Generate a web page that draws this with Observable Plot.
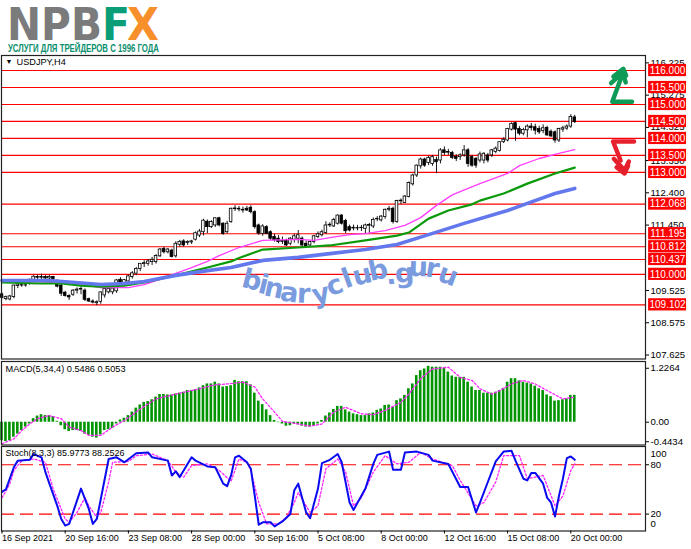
<!DOCTYPE html>
<html>
<head>
<meta charset="utf-8">
<script src="https://cdn.jsdelivr.net/npm/d3@7"></script>
<script src="https://cdn.jsdelivr.net/npm/@observablehq/plot@0.6"></script>
<style>
html,body{margin:0;padding:0;background:#fff;overflow:hidden}
#page{position:relative;width:691px;height:549px;background:#fff;overflow:hidden}
#page svg{position:absolute;left:0;font-family:"Liberation Sans",sans-serif}
#logo{top:0;width:691px;height:54px}
</style>
</head>
<body>
<div id="page">
<svg id="logo" viewBox="0 0 691 54">
<text x="7" y="39.5" font-family="DejaVu Sans" font-weight="bold" font-size="45" fill="#7b7b7c" textLength="95" lengthAdjust="spacingAndGlyphs">NPB</text>
<text x="102" y="39.5" font-family="DejaVu Sans" font-weight="bold" font-size="45" fill="#0a9e78" textLength="28" lengthAdjust="spacingAndGlyphs">F</text>
<text x="127" y="39.5" font-family="DejaVu Sans" font-weight="bold" font-size="45" fill="#f78f2a" textLength="32" lengthAdjust="spacingAndGlyphs">X</text>
<text x="8" y="52" font-family="Liberation Sans" font-weight="bold" font-size="10.5" fill="#0b8f6e" textLength="151" lengthAdjust="spacingAndGlyphs">УСЛУГИ ДЛЯ ТРЕЙДЕРОВ С 1996 ГОДА</text>
</svg>
</div>
<script>
const opens=[109.41,109.27,109.26,109.33,109.66,109.68,109.67,109.72,109.84,109.92,
109.90,109.92,109.88,109.92,109.79,109.67,109.46,109.36,109.40,109.52,
109.55,109.52,109.27,109.20,109.15,109.19,109.38,109.47,109.47,109.50,
109.84,109.74,109.79,109.92,110.02,110.16,110.30,110.31,110.36,110.36,
110.53,110.75,110.65,110.70,110.53,110.87,110.97,110.92,110.94,111.02,
111.14,111.24,111.55,111.39,111.44,111.65,111.49,111.24,111.54,111.92,
111.93,111.90,111.93,111.96,111.83,111.44,111.19,111.39,111.24,111.10,
111.05,110.98,110.99,110.90,111.02,111.05,111.05,110.90,110.85,110.95,
111.10,111.15,111.22,111.44,111.41,111.49,111.73,111.57,111.39,111.35,
111.36,111.36,111.34,111.43,111.41,111.62,111.59,111.69,111.90,111.93,
111.54,112.15,112.10,112.28,112.65,112.91,113.18,113.38,113.28,113.25,
113.37,113.35,113.65,113.58,113.57,113.46,113.45,113.50,113.65,113.45,
113.40,113.35,113.35,113.50,113.50,113.60,113.63,113.89,113.94,114.26,
114.45,114.28,114.14,114.24,114.35,114.33,114.28,114.22,114.31,114.20,
114.18,113.94,114.26,114.29,114.35,114.62];
const highs=[109.45,109.36,109.38,109.68,109.74,109.72,109.72,109.86,109.96,109.98,
110.00,109.96,109.97,109.94,109.84,109.70,109.50,109.40,109.55,109.60,
109.64,109.57,109.30,109.25,109.22,109.48,109.62,109.60,109.62,109.85,
109.90,109.85,109.98,110.08,110.20,110.32,110.40,110.44,110.50,110.58,
110.76,110.80,110.76,110.74,110.96,111.00,111.02,110.99,111.00,111.25,
111.32,111.62,111.60,111.58,111.66,111.68,111.52,111.56,111.95,112.02,
112.00,111.98,112.00,112.02,111.87,111.48,111.46,111.43,111.28,111.18,
111.14,111.10,111.04,111.08,111.18,111.29,111.10,110.98,110.98,111.15,
111.25,111.30,111.55,111.52,111.65,111.75,111.76,111.62,111.45,111.45,
111.44,111.44,111.48,111.50,111.66,111.70,111.73,111.92,112.00,111.98,
112.18,112.22,112.32,112.72,112.95,113.22,113.42,113.42,113.48,113.50,
113.45,113.70,113.75,113.68,113.62,113.52,113.55,113.79,113.70,113.50,
113.44,113.60,113.58,113.56,113.68,113.75,113.90,114.02,114.30,114.46,
114.48,114.35,114.30,114.40,114.44,114.42,114.36,114.40,114.36,114.25,
114.22,114.30,114.36,114.40,114.70,114.68];
const lows=[109.28,109.22,109.22,109.28,109.58,109.62,109.62,109.68,109.78,109.85,
109.84,109.84,109.84,109.82,109.60,109.35,109.33,109.23,109.35,109.42,
109.40,109.20,109.17,109.13,109.08,109.12,109.30,109.42,109.40,109.44,
109.70,109.70,109.72,109.86,109.96,110.08,110.20,110.24,110.26,110.30,
110.50,110.60,110.60,110.48,110.48,110.80,110.80,110.85,110.88,110.98,
111.08,111.13,111.20,111.35,111.38,111.40,111.15,111.19,111.50,111.85,
111.84,111.80,111.85,111.78,111.33,111.15,111.12,111.17,111.00,110.95,
110.90,110.88,110.82,110.84,110.92,110.90,110.80,110.77,110.80,110.90,
111.05,111.10,111.18,111.38,111.38,111.45,111.45,111.20,111.25,111.28,
111.28,111.26,111.20,111.20,111.35,111.55,111.54,111.62,111.84,111.48,
111.50,112.05,112.08,112.25,112.60,112.85,113.10,113.15,113.20,113.18,
112.96,113.25,113.50,113.50,113.38,113.32,113.35,113.45,113.15,113.15,
113.12,113.28,113.25,113.28,113.44,113.55,113.60,113.85,113.90,114.22,
113.92,114.08,114.08,114.02,114.22,114.10,114.12,114.14,114.06,114.03,
113.86,113.88,114.18,114.24,114.30,114.44];
const closes=[109.31,109.33,109.35,109.67,109.70,109.67,109.68,109.84,109.93,109.90,
109.92,109.88,109.92,109.86,109.64,109.43,109.36,109.32,109.52,109.55,
109.57,109.25,109.20,109.17,109.18,109.47,109.57,109.57,109.58,109.82,
109.74,109.83,109.94,110.03,110.16,110.31,110.33,110.38,110.43,110.54,
110.73,110.65,110.73,110.51,110.90,110.95,110.85,110.95,110.97,111.21,
111.26,111.58,111.39,111.54,111.65,111.44,111.19,111.49,111.93,111.94,
111.91,111.88,111.88,111.83,111.39,111.20,111.41,111.19,111.05,111.00,
110.95,110.96,110.85,111.05,111.12,111.15,110.85,110.82,110.95,111.12,
111.18,111.24,111.44,111.46,111.60,111.73,111.49,111.27,111.29,111.37,
111.35,111.37,111.44,111.45,111.60,111.63,111.70,111.90,111.93,111.54,
112.16,112.17,112.29,112.69,112.91,113.20,113.38,113.20,113.43,113.45,
113.30,113.65,113.57,113.60,113.43,113.40,113.50,113.65,113.25,113.20,
113.20,113.53,113.55,113.35,113.65,113.70,113.89,113.96,114.28,114.43,
114.26,114.14,114.25,114.35,114.31,114.23,114.18,114.30,114.09,114.06,
113.94,114.28,114.30,114.35,114.63,114.48];

const maPinkBars=[0,8,14,20,25,32,36,40,44,48,52,55,60,66,75,79,83,88,92,97,102,106,110,114,118,121,128,131,136,141,145];
const maPinkVals=[109.82,109.73,109.76,109.70,109.61,109.61,109.70,109.85,110.03,110.20,110.38,110.55,110.79,111.00,111.03,111.00,111.08,111.17,111.20,111.29,111.44,111.67,112.03,112.34,112.53,112.67,112.97,113.20,113.41,113.56,113.67];
const maGreenBars=[0,10,15,20,25,31,36,44,52,58,60,66,75,83,92,100,103,108,113,119,121,127,133,140,145];
const maGreenVals=[109.76,109.73,109.73,109.67,109.64,109.67,109.76,109.97,110.20,110.38,110.48,110.73,110.79,110.85,111.00,111.14,111.23,111.64,111.88,112.06,112.17,112.38,112.67,112.97,113.14];
const maBlueBars=[0,12,25,31,36,44,52,58,66,75,83,92,100,108,117,128,133,140,145];
const maBlueVals=[109.82,109.82,109.70,109.73,109.79,109.97,110.11,110.20,110.41,110.50,110.61,110.73,110.88,111.17,111.50,111.88,112.09,112.38,112.53];

const priceLevels=[116,115.5,115,114.5,114,113.5,113,112.068,111.195,110.812,110.437,110,109.102];
const priceTicks=[116.225,115.275,114.325,113.35,112.4,111.45,109.525,108.575,107.625];

const macdVals=[-.42,-.44,-.42,-.34,-.27,-.19,-.11,-.04,.08,.14,.17,.15,.15,.13,.02,-.08,-.17,-.21,-.19,-.19,-.21,-.27,-.30,-.34,-.36,-.29,-.19,-.17,-.14,-.04,.05,.09,.15,.23,.32,.39,.45,.47,.51,.57,.63,.63,.62,.62,.64,.66,.68,.72,.72,.74,.78,.83,.87,.87,.91,.87,.80,.81,.83,.95,.92,.92,.92,.85,.66,.48,.40,.28,.15,.04,-.01,-.04,-.09,-.08,-.04,-.06,-.09,-.11,-.11,-.08,-.04,.04,.14,.21,.29,.36,.36,.28,.23,.19,.17,.15,.15,.19,.21,.27,.30,.38,.39,.34,.49,.53,.61,.76,.87,1.06,1.17,1.21,1.27,1.25,1.25,1.25,1.23,1.14,1.05,1.02,1.02,1.02,.91,.80,.72,.72,.66,.66,.66,.68,.72,.77,.91,.99,.99,.94,.91,.89,.87,.82,.76,.72,.62,.58,.48,.49,.51,.53,.61,.61];
const macdSigBars=[0,3,5,7,9,12,15,17,20,22,25,28,31,35,39,44,49,54,57,61,64,66,69,71,75,78,81,84,87,91,94,97,101,103,106,109,113,116,119,121,124,126,129,132,135,138,142,145];
const macdSigVals=[-.49,-.38,-.19,-.04,.08,.15,.08,-.11,-.19,-.30,-.30,-.11,.04,.30,.53,.64,.74,.85,.87,.91,.80,.53,.23,.02,-.04,-.09,-.04,.23,.34,.19,.17,.27,.45,.64,.99,1.21,1.25,1.02,.95,.76,.64,.72,.87,.95,.87,.72,.53,.57];
const macdTicks=[1.2264,0,-0.4434];

const stochBars=[0,1,3,4,7,8,10,11,12,14,15,16,17,20,22,23,24,25,27,29,31,34,37,38,42,43,44,45,48,49,52,54,56,57,58,59,60,62,63,64,65,66,68,69,71,73,74,75,77,78,80,81,83,85,86,88,89,92,94,95,98,99,101,102,105,108,109,113,116,118,120,121,123,125,127,129,130,132,133,134,135,137,138,139,140,141,142,143,144,145];
const stochVals=[47,50,77,85,86,93,89,71,57,30,14,6,8,51,26,8,14,38,87,89,83,94,95,89,85,67,72,65,89,85,78,77,57,54,67,89,91,83,75,42,7,10,10,5,11,20,49,57,22,15,51,82,86,93,83,34,25,51,81,92,96,74,74,95,96,92,85,81,53,53,22,34,59,84,96,97,85,63,61,70,70,57,40,34,17,42,63,88,90,86];
const stochSigBars=[0,1,2,3,5,8,11,13,16,17,19,21,22,24,25,27,28,32,34,38,42,44,46,48,52,55,58,60,62,63,65,67,70,72,74,75,78,80,82,85,87,89,91,94,97,100,103,106,109,114,116,120,122,125,127,131,133,137,140,142,144,145];
const stochSigVals=[40,48,57,73,85,87,83,50,14,10,22,40,30,16,22,59,83,84,91,93,85,71,65,79,81,73,60,87,83,73,34,8,8,16,34,46,22,30,75,87,71,30,40,71,91,81,83,95,87,79,61,30,34,59,91,91,63,67,30,42,73,81];
const stochLevels=[80,20];

const tickBars=[0,16,32,48,64,80,96,112,128,144];
const tickLabels=["16 Sep 2021","20 Sep 16:00","23 Sep 08:00","28 Sep 00:00","30 Sep 16:00","5 Oct 08:00","8 Oct 00:00","12 Oct 16:00","15 Oct 08:00","20 Oct 00:00"];

const wmLetters=["b","i","n","a","r","y","c","l","u","b",".","g","u","r","u"];
const wmBars=[63.3,66.2,68.9,72.8,76.4,80.7,84.2,87.4,91.2,95.2,98.4,101.9,105.4,109,113];
const wmPrices=[109.82,109.69,109.58,109.45,109.42,109.42,109.67,109.87,109.97,110.11,109.97,110.02,110.20,110.17,109.97];
const wmAngles=[14,14,12,8,2,-12,-20,-20,-14,-12,-8,-4,2,10,20];

const greenStrokes=[[[159.5,115.08],[154.5,115.08],[156.8,115.80]],[[154.2,115.63],[157.1,115.94],[157.9,115.65]],[[154.8,115.82],[157.3,116.05],[158,115.85]]];
const redStrokes=[[[160,113.91],[154.7,113.91],[156.6,113.35]],[[154.9,113.40],[157.6,113.06],[158.7,113.32]],[[155.6,113.15],[157.6,112.97],[158.5,113.2]]];

const barIdx=d3.range(opens.length);
const xDomain=[-0.127,162.911];
const boxBars=[163.7,173.3];
const FS=9.2;
const common={width:691,marginLeft:1,marginRight:46,style:{fontSize:FS+"px",fontFamily:"Liberation Sans",background:"transparent"}};
const zip=(a,b)=>a.map((v,k)=>[v,b[k]]);
const strokeData=s=>s.flatMap((seg,g)=>seg.map(p=>({x:p[0],y:p[1],g})));

const main=Plot.plot({...common,height:306,marginTop:1,marginBottom:1.5,
  x:{domain:xDomain,axis:null},
  y:{domain:[107.508,116.442]},
  marks:[
    Plot.ruleY(priceLevels,{stroke:"#f00",strokeWidth:1.2}),
    Plot.ruleX(barIdx,{x:i=>i,y1:i=>lows[i],y2:i=>highs[i],stroke:"#000",strokeWidth:.9}),
    Plot.rect(barIdx,{x1:i=>i-.33,x2:i=>i+.33,y1:i=>opens[i],y2:i=>closes[i],fill:i=>closes[i]>=opens[i]?"#fff":"#000",stroke:"#000",strokeWidth:.8}),
    Plot.line(zip(maPinkBars,maPinkVals),{stroke:"#ff3dff",strokeWidth:1.3}),
    Plot.line(zip(maGreenBars,maGreenVals),{stroke:"#0a9a0a",strokeWidth:2.2}),
    Plot.line(zip(maBlueBars,maBlueVals),{stroke:"#6478ee",strokeWidth:3.6}),
    Plot.text(wmLetters,{x:(d,k)=>wmBars[k],y:(d,k)=>wmPrices[k],text:d=>d,rotate:(d,k)=>wmAngles[k],fontSize:27,fontWeight:"bold",fontFamily:"DejaVu Sans",fill:"#7a9bdd"}),
    Plot.line(strokeData(greenStrokes),{x:"x",y:"y",z:"g",stroke:"#0f9b55",strokeWidth:4.5,curve:"linear"}),
    Plot.line(strokeData(redStrokes),{x:"x",y:"y",z:"g",stroke:"#e6202c",strokeWidth:4.5,curve:"linear"}),
    Plot.frame({stroke:"#222",strokeWidth:1.2}),
    Plot.axisY({anchor:"right",ticks:priceTicks,tickFormat:d3.format(".3f"),tickSize:3,tickPadding:2,label:null,fill:"#000",fontSize:9.6}),
    Plot.rect(priceLevels,{x1:boxBars[0],x2:boxBars[1],y1:d=>d-.18,y2:d=>d+.18,fill:"#f00"}),
    Plot.text(priceLevels,{x:(boxBars[0]+boxBars[1])/2,y:d=>d,text:d=>d3.format(".3f")(d),fill:"#fff",fontSize:10}),
    Plot.text(["▼"],{frameAnchor:"top-left",dx:4,dy:4,fontSize:7,fill:"#000",textAnchor:"start",lineAnchor:"top"}),
    Plot.text(["USDJPY,H4"],{frameAnchor:"top-left",dx:15,dy:3,fontSize:9.2,fill:"#000",textAnchor:"start",lineAnchor:"top"})
  ]});
main.style.top="54px";

const macd=Plot.plot({...common,height:86,marginTop:1,marginBottom:1.5,
  x:{domain:xDomain,axis:null},
  y:{domain:[-0.518,1.38]},
  marks:[
    Plot.rect(barIdx,{x1:i=>i-.33,x2:i=>i+.33,y1:0,y2:i=>macdVals[i],fill:"#009400"}),
    Plot.line(zip(macdSigBars,macdSigVals),{stroke:"#ff22ff",strokeWidth:1.3,strokeDasharray:"2 2"}),
    Plot.frame({stroke:"#222",strokeWidth:1.2}),
    Plot.axisY({anchor:"right",ticks:macdTicks,tickFormat:d=>d===0?"0.00":d3.format(".4f")(d).replace("−","-"),tickSize:3,tickPadding:2,label:null,fill:"#000",fontSize:9.6}),
    Plot.text(["MACD(5,34,4) 0.5486 0.5053"],{frameAnchor:"top-left",dx:4,dy:4,fontSize:9.2,fill:"#000",textAnchor:"start",lineAnchor:"top"})
  ]});
macd.style.top="360px";

const stoch=Plot.plot({...common,height:104,marginTop:1,marginBottom:18.5,
  x:{domain:xDomain},
  y:{domain:[-0.6,102.2]},
  marks:[
    Plot.ruleY(stochLevels,{stroke:"#f00",strokeWidth:1.2,strokeDasharray:"13 6"}),
    Plot.line(zip(stochSigBars,stochSigVals),{stroke:"#ff22ff",strokeWidth:1.3,strokeDasharray:"2 2"}),
    Plot.line(zip(stochBars,stochVals),{stroke:"#0a0af0",strokeWidth:2}),
    Plot.frame({stroke:"#222",strokeWidth:1.2}),
    Plot.axisY({anchor:"right",ticks:stochLevels,tickFormat:d=>String(d),tickSize:3,tickPadding:2,label:null,fill:"#000",fontSize:9.6}),
    Plot.text([100],{y:d=>d,text:d=>String(d),frameAnchor:"right",dx:5,dy:5.5,textAnchor:"start",fill:"#000",fontSize:9.6}),
    Plot.text([0],{y:d=>d,text:d=>String(d),frameAnchor:"right",dx:5,dy:-6.5,textAnchor:"start",fill:"#000",fontSize:9.6}),
    Plot.axisX({anchor:"bottom",ticks:tickBars,tickFormat:d=>tickLabels[tickBars.indexOf(d)],textAnchor:"start",tickSize:3,tickPadding:1,label:null,fontSize:9,fill:"#000"}),
    Plot.text(["Stoch(8,3,3) 85.9773 88.2526"],{frameAnchor:"top-left",dx:4,dy:3,fontSize:9,fill:"#000",textAnchor:"start",lineAnchor:"top"})
  ]});
stoch.style.top="445px";

const page=document.getElementById("page");
page.append(main,macd,stoch);
</script>
</body>
</html>
